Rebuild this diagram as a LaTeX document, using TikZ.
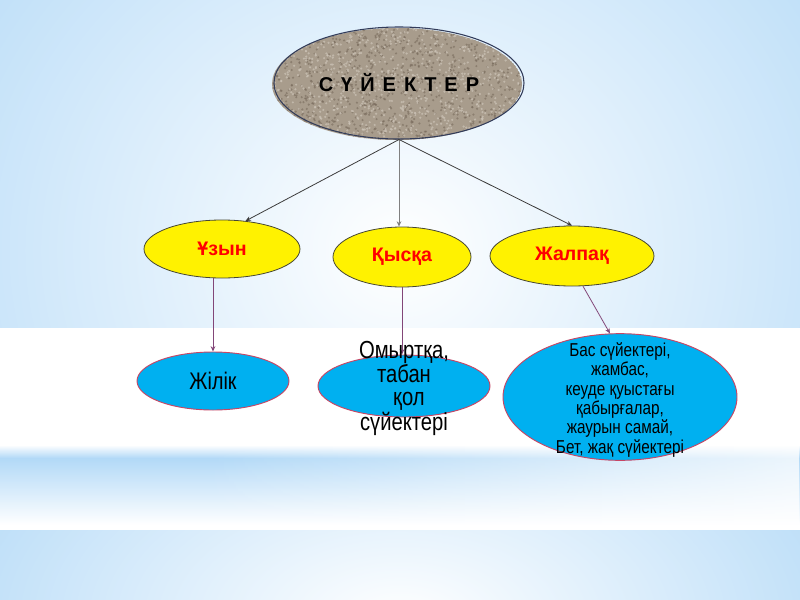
\documentclass[tikz,border=0pt]{standalone}
\usepackage{fontspec}
\setmainfont{Liberation Sans}
\newfontfamily\narrowfont[FakeStretch=0.82]{Liberation Sans}
\usetikzlibrary{shapes.geometric,arrows.meta,fadings}
\definecolor{bgblue}{RGB}{160,208,245}
\definecolor{bandblue}{RGB}{178,217,247}
\definecolor{skyfill}{RGB}{0,176,240}
\definecolor{bordred}{RGB}{200,70,100}
\definecolor{linepurple}{RGB}{130,70,120}
\definecolor{stone}{RGB}{168,156,140}
\definecolor{stonedark}{RGB}{120,106,92}
\definecolor{stonelight}{RGB}{205,196,184}
\definecolor{topborder}{RGB}{50,60,90}
\definecolor{ylwborder}{RGB}{70,70,50}
\definecolor{toplinecol}{RGB}{60,60,60}
\tikzset{
  topnode/.style={ellipse, draw=topborder, line width=0.8pt, minimum width=187.5pt, minimum height=84pt, inner sep=0pt, font=\bfseries\fontsize{15}{18}\selectfont},
  yellownode/.style={ellipse, draw=ylwborder, line width=0.6pt, fill=yellow, inner sep=0pt, text=red, font=\bfseries\fontsize{14.7}{17}\selectfont},
  bluenode/.style={ellipse, draw=bordred, line width=0.7pt, fill=skyfill, inner sep=0pt},
  toparrow/.style={draw=toplinecol, line width=0.6pt, -{Stealth[length=4pt,width=3.5pt]}},
  lowarrow/.style={draw=linepurple, line width=0.6pt, -{Stealth[length=4pt,width=3.5pt]}},
}
\begin{document}
\begin{tikzpicture}[x=0.75pt,y=-0.75pt]
\useasboundingbox (0,0) rectangle (800,600);
% background top
\begin{scope}
\clip (0,0) rectangle (800,328);
\shade[inner color=white, outer color=bgblue] (-350,-450) rectangle (1150,950);
\end{scope}
% middle band
\fill[white] (0,328) rectangle (800,530);
\shade[top color=white, bottom color=bandblue] (0,445) rectangle (800,458);
\shade[top color=bandblue, bottom color=white] (0,458) rectangle (800,525);
\fill[white, path fading=west, fill opacity=0.75] (200,444) rectangle (800,526);
% bottom
\begin{scope}
\clip (0,530) rectangle (800,600);
\shade[inner color=white, outer color=bgblue] (-250,260) rectangle (1050,980);
\end{scope}
% textured top ellipse
\begin{scope}
\clip (397,84) ellipse [x radius=125, y radius=56];
\fill[stone] (397,84) ellipse [x radius=125, y radius=56];
\pgfmathsetseed{7}
\foreach \i in {1,...,900}{
  \pgfmathsetmacro\xx{272+250*rnd}
  \pgfmathsetmacro\yy{28+112*rnd}
  \fill[stonedark, opacity=0.6] (\xx,\yy) circle (0.9pt);
}
\foreach \i in {1,...,900}{
  \pgfmathsetmacro\xx{272+250*rnd}
  \pgfmathsetmacro\yy{28+112*rnd}
  \fill[stonelight, opacity=0.7] (\xx,\yy) circle (0.9pt);
}
\end{scope}
\node[topnode] (top) at (399,83) {С\hspace{0.4em}Ү\hspace{0.4em}Й\hspace{0.4em}Е\hspace{0.4em}К\hspace{0.4em}Т\hspace{0.4em}Е\hspace{0.4em}Р};
% yellow nodes
\node[yellownode, minimum width=117pt, minimum height=43.5pt] (u) at (222,249) {Ұзын};
\node[yellownode, minimum width=103.5pt, minimum height=45pt] (k) at (402,257) {Қысқа};
\node[yellownode, minimum width=123pt, minimum height=45pt] (j) at (572,256) {Жалпақ};
% blue nodes
\node[bluenode, minimum width=114pt, minimum height=43.5pt, font=\narrowfont\fontsize{18}{20}\selectfont] (b1) at (213,381) {Жілік};
\node[bluenode, minimum width=129pt, minimum height=46.5pt] (b2) at (404,386) {};
\node[bluenode, minimum width=175.5pt, minimum height=95pt] (b3) at (620,397) {};
\node[font=\narrowfont\fontsize{14}{14.5}\selectfont, align=center, inner sep=0pt] (t3) at (620,400) {Бас сүйектері,\\жамбас,\\кеуде қуыстағы\\қабырғалар,\\жаурын самай,\\Бет, жақ сүйектері};
% top arrows
\draw[toparrow] (top.south) -- (u.50);
\draw[toparrow, draw=gray] (top.south) -- (top.south |- k.north);
\draw[toparrow] (top.south) -- (j.north);
% lower arrows
\draw[lowarrow] (b1.north |- u.south) -- (b1.north);
\draw[lowarrow] (k.south) -- (k.south |- b2.north);
\draw[lowarrow] (j.-70) -- (b3.99);
% overflowing text of middle blue node
\node[font=\narrowfont\fontsize{18.5}{17.2}\selectfont, align=center, inner sep=0pt] (t2) at (404,388) {Омыртқа,\\табан\\\hspace{0.4em}қол\\сүйектері};
\end{tikzpicture}
\end{document}
